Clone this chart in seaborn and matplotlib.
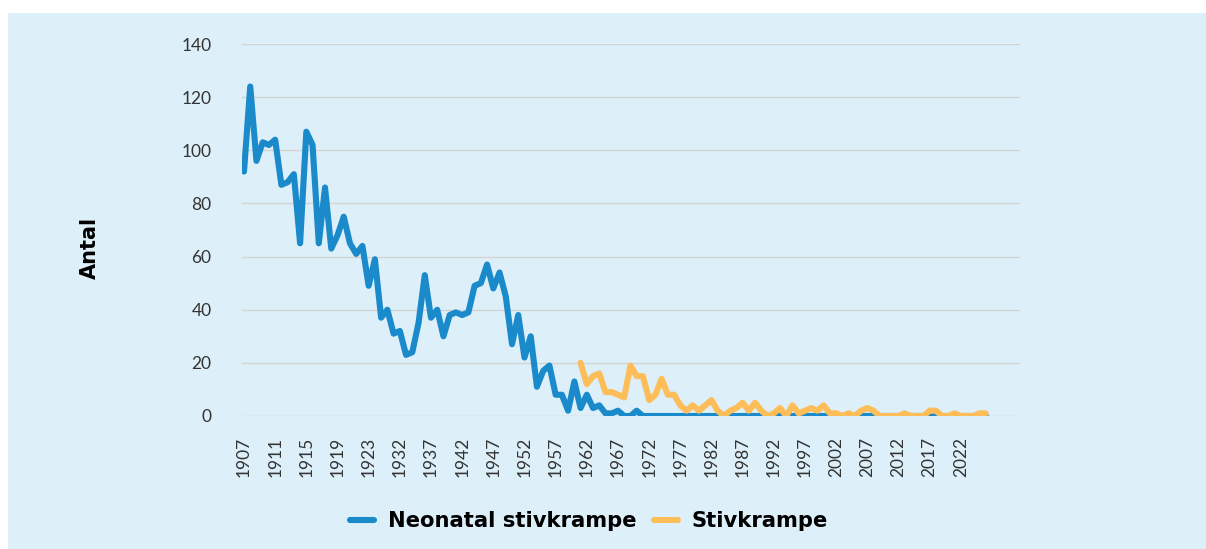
import numpy as np
import pandas as pd
import matplotlib
matplotlib.use("Agg")
import matplotlib.pyplot as plt
import seaborn as sns
from matplotlib.patches import Rectangle

# Årlige tilfælde
neonatal = [92, 124, 96, 103, 102, 104, 87, 88, 91, 65,
            107, 102, 65, 86, 63, 68, 75, 65, 61, 64,
            49, 59, 37, 40, 31, 32, 23, 24, 35, 53,
            37, 40, 30, 38, 39, 38, 39, 49, 50, 57,
            48, 54, 45, 27, 38, 22, 30, 11, 17, 19,
            8, 8, 2, 13, 3, 8, 3, 4, 1, 1,
            2, 0, 0, 2, 0, 0, 0, 0, 0, 0] + [0] * 50

stivkrampe = [20, 12, 15, 16, 9, 9, 8, 7, 19, 15,
              15, 6, 8, 14, 8, 8, 4, 2, 4, 2,
              4, 6, 2, 0, 2, 3, 5, 2, 5, 2,
              0, 1, 3, 0, 4, 1, 2, 3, 2, 4,
              1, 1, 0, 1, 0, 2, 3, 2, 0, 0,
              0, 0, 1, 0, 0, 0, 2, 2, 0, 0,
              1, 0, 0, 0, 1, 1]

tick_labels = ["1907", "1911", "1915", "1919", "1923", "1932", "1937", "1942",
               "1947", "1952", "1957", "1962", "1967", "1972", "1977", "1982",
               "1987", "1992", "1997", "2002", "2007", "2012", "2017", "2022"]

serier = ["Neonatal stivkrampe", "Stivkrampe"]
farver = ["#1B8ACB", "#FDBE5A"]

n = len(neonatal)
df = pd.DataFrame({"x": np.arange(n), "Neonatal stivkrampe": neonatal})
df["Stivkrampe"] = np.nan
df.loc[n - len(stivkrampe):, "Stivkrampe"] = stivkrampe
df_long = df.melt(id_vars="x", var_name="serie", value_name="antal")

W, H = 1206, 549
fig = plt.figure(figsize=(W / 100, H / 100), dpi=100, facecolor="white")
fig.patches.append(Rectangle((8 / W, 0), 1 - 8 / W, 1 - 13 / H,
                             transform=fig.transFigure, facecolor="#DDF0F9",
                             edgecolor="none", zorder=-10))

ax = fig.add_axes([242 / W, (H - 416) / H, (1020 - 242) / W, (416 - 44) / H])
ax.set_facecolor("none")

sns.lineplot(data=df_long, x="x", y="antal", hue="serie", hue_order=serier,
             palette=farver, linewidth=4.4, ax=ax, legend=False,
             solid_joinstyle="round", solid_capstyle="round")

ax.set_ylim(0, 140)
ax.set_xlim(-0.32, 124.5)
ax.set_yticks(range(0, 141, 20))
ax.set_xticks(range(0, 5 * len(tick_labels), 5))
ax.set_xticklabels(tick_labels, rotation=90)
ax.grid(axis="y", color="#D3D3D3", linewidth=1)
ax.grid(axis="x", visible=False)
ax.set_axisbelow(True)
for s in ax.spines.values():
    s.set_visible(False)
ax.tick_params(axis="both", length=0, labelcolor="#333333", labelsize=12.5)
ax.tick_params(axis="x", pad=15)
ax.tick_params(axis="y", pad=22)
for t in ax.get_xticklabels() + ax.get_yticklabels():
    t.set_fontfamily("Lato")
ax.set_xlabel("")
ax.set_ylabel("")

fig.text(90 / W, 1 - 248 / H, "Antal", rotation=90, ha="center", va="center",
         fontsize=15, fontweight="bold", family="DejaVu Sans", color="black")

handles = [plt.Line2D([], [], color=c, linewidth=4.4, solid_capstyle="round")
           for c in farver]
fig.legend(handles, serier, loc="center", bbox_to_anchor=(589 / W, 1 - 521 / H),
           ncol=2, frameon=False, handlelength=1.15, handletextpad=0.65,
           columnspacing=0.8,
           prop={"family": "DejaVu Sans", "weight": "bold", "size": 15.2})

fig.savefig("out.png", dpi=100, facecolor="white")
